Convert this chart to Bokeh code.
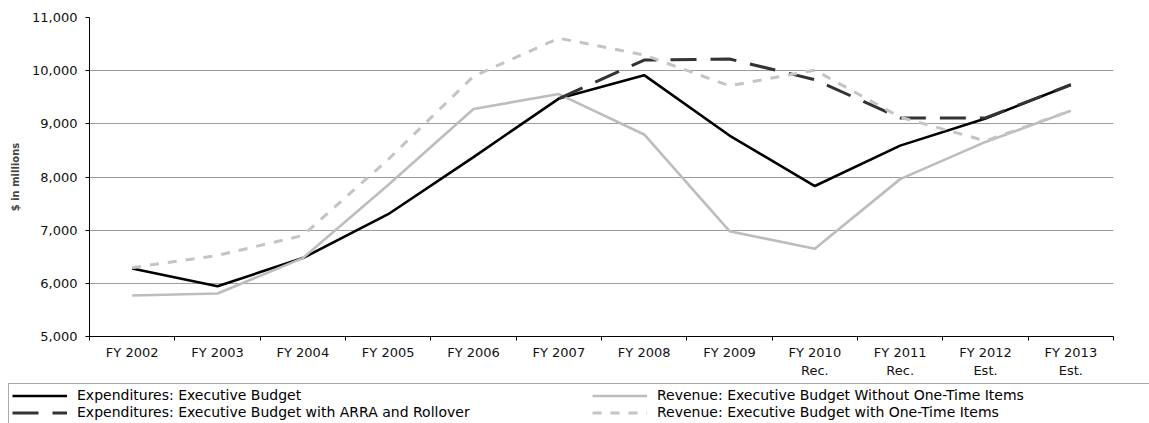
import numpy as np
from bokeh.plotting import figure
from bokeh.models import (ColumnDataSource, Range1d, LinearAxis,
                          FixedTicker, NumeralTickFormatter,
                          Legend, LegendItem)
from bokeh.embed import file_html
from bokeh.resources import INLINE

# Fiscal years (multi-line labels for recommended / estimated years)
years = ["FY 2002", "FY 2003", "FY 2004", "FY 2005", "FY 2006", "FY 2007",
         "FY 2008", "FY 2009", "FY 2010\nRec.", "FY 2011\nRec.",
         "FY 2012\nEst.", "FY 2013\nEst."]

# $ in millions
exp_exec = [6280, 5945, 6475, 7300, 8375, 9475, 9915, 8780, 7830, 8590, 9100, 9735]
exp_arra = [np.nan, np.nan, np.nan, np.nan, np.nan, 9475, 10200, 10220, 9830,
            9110, 9110, 9735]
rev_without = [5770, 5810, 6475, 7850, 9280, 9560, 8800, 6980, 6650, 7960, 8660, 9245]
rev_with = [6295, 6525, 6900, 8330, 9895, 10610, 10295, 9715, 10010, 9125, 8680, 9245]

y_ticks = [5000, 6000, 7000, 8000, 9000, 10000, 11000]

series_names = [
    "Expenditures: Executive Budget",
    "Revenue: Executive Budget Without One-Time Items",
    "Expenditures: Executive Budget with ARRA and Rollover",
    "Revenue: Executive Budget with One-Time Items",
]

n = len(years)
# each year occupies one unit slot; points sit in the middle of their slot
slot_centers = [i + 0.5 for i in range(n)]
slot_edges = list(range(n + 1))

src = ColumnDataSource(dict(
    year=years,
    pos=slot_centers,
    exp_exec=np.array(exp_exec, dtype=float),
    exp_arra=np.array(exp_arra, dtype=float),
    rev_without=np.array(rev_without, dtype=float),
    rev_with=np.array(rev_with, dtype=float),
))

FONT = "DejaVu Sans"

# line styles shared by the chart and its key
styles = [
    dict(line_color="black", line_width=2.6),
    dict(line_color="#bdbdbd", line_width=2.6),
    dict(line_color="#333333", line_width=3, line_dash="26 14"),
    dict(line_color="#c4c4c4", line_width=3, line_dash="9 9"),
]
columns = ["exp_exec", "rev_without", "exp_arra", "rev_with"]

p = figure(width=1149, height=380,
           x_range=Range1d(0, n),
           y_range=Range1d(y_ticks[0], y_ticks[-1]),
           x_axis_location=None,
           output_backend="svg", toolbar_location=None,
           min_border_left=89, min_border_right=36,
           min_border_top=17, min_border_bottom=43)
p.outline_line_color = None
p.background_fill_color = "white"
p.border_fill_color = "white"

# y axis
yax = p.yaxis[0]
yax.ticker = FixedTicker(ticks=y_ticks)
yax.formatter = NumeralTickFormatter(format="0,0")
yax.major_tick_out = 4
yax.major_tick_in = 0
yax.minor_tick_line_color = None
yax.axis_line_color = "black"
yax.major_tick_line_color = "black"
yax.major_label_standoff = 8
yax.major_label_text_font = FONT
yax.major_label_text_font_size = "13px"
yax.major_label_text_color = "#111111"
yax.axis_label = "$ in millions"
yax.axis_label_text_font = FONT
yax.axis_label_text_font_style = "bold"
yax.axis_label_text_font_size = "10px"
yax.axis_label_standoff = 8

p.xgrid.visible = False
p.ygrid.grid_line_color = "#9c9c9c"
p.ygrid.grid_line_width = 1

# x axis: labels centred on each year, tick marks on the slot boundaries
xax = LinearAxis(ticker=FixedTicker(ticks=slot_centers, minor_ticks=slot_edges),
                 major_label_overrides={c: lab for c, lab in zip(slot_centers, years)})
xax.major_tick_line_color = None
xax.major_tick_out = 4
xax.major_tick_in = 0
xax.minor_tick_line_color = "black"
xax.minor_tick_out = 4
xax.minor_tick_in = 0
xax.axis_line_color = "black"
xax.major_label_standoff = 4
xax.major_label_text_font = FONT
xax.major_label_text_font_size = "13px"
xax.major_label_text_color = "#111111"
p.add_layout(xax, "below")

# series
for col, st in zip(columns, styles):
    p.line("pos", col, source=src, line_join="round", **st)

# key strip below the chart (its own frame spans the full width)
key = figure(width=1149, height=43, x_range=Range1d(0, 1), y_range=Range1d(0, 1),
             output_backend="svg", toolbar_location=None,
             x_axis_location=None, y_axis_location=None,
             min_border=0, min_border_left=0, min_border_right=0,
             min_border_top=0, min_border_bottom=0)
key.outline_line_color = None
key.xgrid.visible = False
key.ygrid.visible = False
key.border_fill_color = "white"
key.background_fill_color = "white"

key_items = []
for name, st in zip(series_names, styles):
    r = key.line(x=np.array([np.nan]), y=np.array([np.nan]), **st)
    key_items.append(LegendItem(label=name, renderers=[r]))

legend = Legend(
    items=key_items,
    orientation="horizontal", ncols=2,
    location=(8, -1), margin=0, padding=3, spacing=1,
    glyph_width=55, glyph_height=15, label_height=15, label_width=514,
    label_standoff=10,
    label_text_font=FONT, label_text_font_size="14px", label_text_color="black",
    border_line_color="#555555", border_line_width=1,
    background_fill_color="white", background_fill_alpha=1.0,
)
key.add_layout(legend, "center")

open("out.html", "w").write(file_html([p, key], INLINE))
